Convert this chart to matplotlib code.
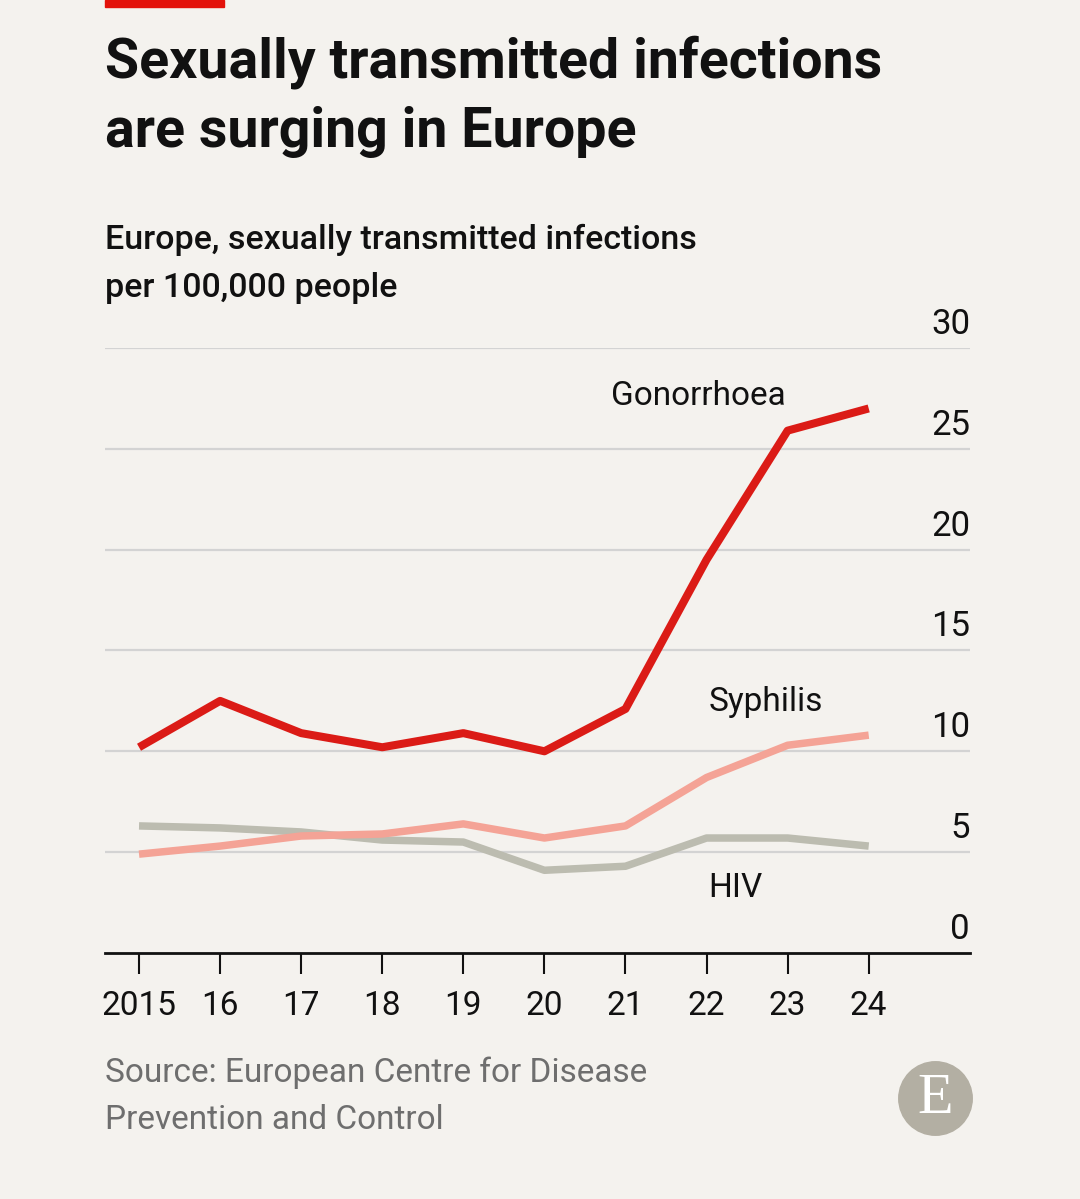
import matplotlib.pyplot as plt
from matplotlib.patches import Circle, Rectangle

years = [2015, 2016, 2017, 2018, 2019, 2020, 2021, 2022, 2023, 2024]
year_labels = ['2015', '16', '17', '18', '19', '20', '21', '22', '23', '24']
gonorrhoea = [10.2, 12.5, 10.9, 10.2, 10.9, 10.0, 12.1, 19.5, 25.9, 27.0]
syphilis = [4.9, 5.3, 5.8, 5.9, 6.4, 5.7, 6.3, 8.7, 10.3, 10.8]
hiv = [6.3, 6.2, 6.0, 5.6, 5.5, 4.1, 4.3, 5.7, 5.7, 5.3]
y_ticks = [0, 5, 10, 15, 20, 25, 30]

BG = '#F4F2EE'
RED = '#DB1B16'
PINK = '#F4A396'
GREY = '#BCBCB0'

plt.rcParams['font.family'] = ['Roboto', 'DejaVu Sans']

fig = plt.figure(figsize=(10.8, 11.99), dpi=100, facecolor=BG)
ax = fig.add_axes([0.0972, 0.2052, 0.801, 0.5046])
ax.set_facecolor(BG)

ax.set_xlim(2014.58, 2025.25)
ax.set_ylim(0, 30)

for v in y_ticks[1:]:
    ax.axhline(v, color='#D3D3D3', lw=1.6, zorder=1)

ax.plot(years, hiv, color=GREY, lw=5.4, solid_capstyle='butt', zorder=3)
ax.plot(years, syphilis, color=PINK, lw=5.4, solid_capstyle='butt', zorder=4)
ax.plot(years, gonorrhoea, color=RED, lw=5.8, solid_capstyle='butt', zorder=5)

for s in ['top', 'right', 'left']:
    ax.spines[s].set_visible(False)
ax.spines['bottom'].set_linewidth(2)
ax.spines['bottom'].set_color('#111111')
ax.set_yticks([])
ax.set_xticks(years)
ax.set_xticklabels(year_labels)
ax.tick_params(axis='x', length=15, width=1.5, color='#111111', pad=12,
               labelsize=24, labelcolor='#111111')

for v in y_ticks:
    ax.text(2025.25, v + 0.35, str(v), ha='right', va='bottom', fontsize=25,
            color='#111111')

ax.text(2021.9, 27.6, 'Gonorrhoea', ha='center', va='center', fontsize=24, color='#111111')
ax.text(2022.73, 12.45, 'Syphilis', ha='center', va='center', fontsize=24, color='#111111')
ax.text(2022.35, 3.2, 'HIV', ha='center', va='center', fontsize=24, color='#111111')

# header
fig.patches.append(Rectangle((105 / 1080, 1 - 7 / 1199), 119 / 1080, 7 / 1199,
                             transform=fig.transFigure, color='#E3120B'))
fig.text(105 / 1080, 1 - 62 / 1199, 'Sexually transmitted infections', fontsize=40,
         fontweight='bold', color='#111111', va='center', ha='left')
fig.text(105 / 1080, 1 - 132 / 1199, 'are surging in Europe', fontsize=40,
         fontweight='bold', color='#111111', va='center', ha='left')
fig.text(105 / 1080, 1 - 240 / 1199, 'Europe, sexually transmitted infections',
         fontsize=24.5, fontweight='medium', color='#111111', va='center', ha='left')
fig.text(105 / 1080, 1 - 288 / 1199, 'per 100,000 people',
         fontsize=24.5, fontweight='medium', color='#111111', va='center', ha='left')

# footer
fig.text(105 / 1080, 1 - 1073 / 1199, 'Source: European Centre for Disease',
         fontsize=24, color='#6E6E6E', va='center', ha='left')
fig.text(105 / 1080, 1 - 1120 / 1199, 'Prevention and Control',
         fontsize=24, color='#6E6E6E', va='center', ha='left')

logo_ax = fig.add_axes([898 / 1080, 1 - 1136 / 1199, 75 / 1080, 75 / 1199])
logo_ax.set_xlim(-1, 1)
logo_ax.set_ylim(-1, 1)
logo_ax.set_aspect('equal')
logo_ax.axis('off')
logo_ax.add_patch(Circle((0, 0), 0.98, color='#B3AFA3'))
logo_ax.text(0, -0.02, 'E', ha='center', va='center', fontsize=42, color='white',
             family=['Liberation Serif', 'DejaVu Serif'])

fig.savefig('out.png', dpi=100, facecolor=BG)
